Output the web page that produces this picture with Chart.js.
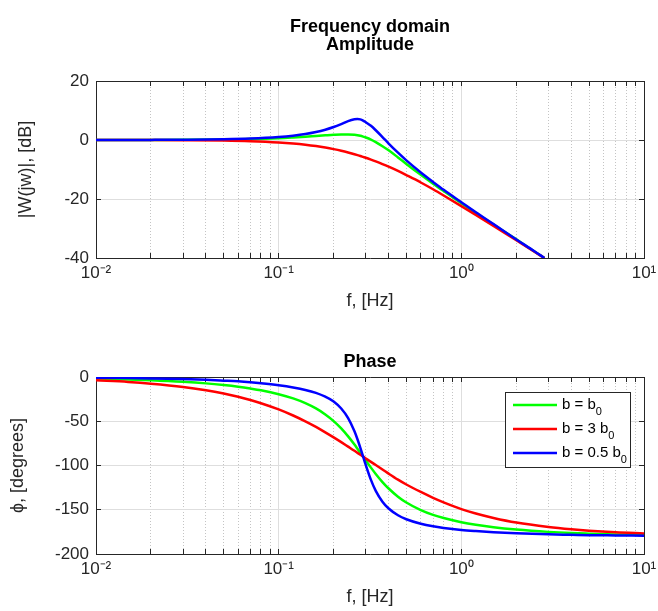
<!DOCTYPE html>
<html lang="en">
<head>
  <title>Frequency domain</title>
  <script src="https://cdn.jsdelivr.net/npm/chart.js"></script>
  <style>
    body { margin: 0; background: #fff; }
    .wrap { position: relative; width: 658px; height: 611px; }
    canvas { position: absolute; left: 0; }
    #ampChart { top: 0; }
    #phaseChart { top: 318px; }
  </style>
</head>
<body>
<div class="wrap">
  <canvas id="ampChart" width="658" height="318"></canvas>
  <canvas id="phaseChart" width="658" height="293"></canvas>
</div>
<script>
  // values
  const seriesLabels = ['b = b₀', 'b = 3 b₀', 'b = 0.5 b₀'];
  const seriesColors = ['#00ff00', '#ff0000', '#0000ff'];

  const decadeTicks = [0.01, 0.1, 1, 10];
  const decadeLabels = ['10⁻²', '10⁻¹', '10⁰', '10¹'];
  const minorSteps = [1, 2, 3, 4, 5, 6, 7, 8, 9];

  const ampFreq = [0.01, 0.02, 0.03, 0.05, 0.07, 0.1, 0.12, 0.14, 0.16, 0.18, 0.2, 0.22, 0.24, 0.26, 0.27,
    0.28, 0.29, 0.3, 0.32, 0.34, 0.37, 0.4, 0.45, 0.5, 0.6, 0.7, 0.8, 1.0, 1.2, 1.5, 2.0, 2.5, 2.85];
  const ampGreen = [0, 0.03, 0.06, 0.16, 0.31, 0.6, 0.86, 1.12, 1.38, 1.6, 1.78, 1.88, 1.88, 1.75, 1.62,
    1.42, 1.15, 0.85, 0.15, -0.7, -2.1, -3.5, -5.9, -8.1, -11.8, -14.8, -17.3, -21.4, -24.7, -28.7, -33.7, -37.7, -40];
  const ampRed = [-0.02, -0.03, -0.08, -0.21, -0.42, -0.84, -1.19, -1.6, -2.06, -2.56, -3.09, -3.64, -4.22, -4.82, -5.12,
    -5.42, -5.73, -6.03, -6.65, -7.26, -8.17, -9.06, -10.5, -11.9, -14.4, -16.7, -18.8, -22.4, -25.4, -29.1, -34.0, -37.8, -40];
  const ampBlue = [0, 0.04, 0.09, 0.24, 0.48, 1.0, 1.45, 2.0, 2.7, 3.5, 4.4, 5.4, 6.4, 7.0, 7.1,
    7.0, 6.6, 6.0, 4.8, 3.3, 1.0, -1.2, -4.3, -6.9, -11.0, -14.2, -16.9, -21.1, -24.5, -28.5, -33.7, -37.6, -40];

  const phaseFreq = [0.01, 0.015, 0.02, 0.03, 0.04, 0.05, 0.06, 0.07, 0.08, 0.1, 0.12, 0.14, 0.16, 0.18, 0.2,
    0.22, 0.24, 0.26, 0.27, 0.28, 0.29, 0.3, 0.32, 0.34, 0.37, 0.4, 0.45, 0.5, 0.6, 0.7,
    0.8, 1.0, 1.2, 1.5, 2.0, 3.0, 4.0, 5.0, 7.0, 10];
  const phaseGreen = [-1.8, -2.7, -3.6, -5.4, -7.2, -9.1, -11.0, -13.0, -15.0, -19.4, -24.2, -29.5, -35.5, -42.3, -49.8,
    -58.1, -67.1, -76.3, -81.0, -85.5, -90, -94.3, -102.4, -109.5, -118.7, -126.0, -135.2, -141.8, -150.4, -155.8,
    -159.4, -164.1, -167.0, -169.8, -172.4, -175.0, -176.3, -177.0, -177.9, -178.5];
  const phaseRed = [-3.8, -5.6, -7.5, -11.2, -15.0, -18.7, -22.3, -26.0, -29.6, -36.6, -43.5, -50.1, -56.4, -62.5, -68.2,
    -73.6, -78.7, -83.4, -85.7, -87.9, -90, -92.1, -95.9, -99.5, -104.5, -109.2, -116.0, -121.5, -129.9, -136.5,
    -141.6, -149.3, -154.3, -159.3, -164.5, -169.5, -172.1, -173.7, -175.5, -176.8];
  const phaseBlue = [-0.8, -1.2, -1.6, -2.4, -3.2, -4.1, -4.9, -5.9, -7.0, -9.3, -11.8, -14.6, -18.0, -22.3, -27.6,
    -35.6, -46.4, -61.3, -70.3, -80.0, -90, -99.6, -116.2, -128.6, -140.9, -148.6, -156.2, -160.7, -165.8, -168.7,
    -170.5, -172.8, -174.1, -175.4, -176.6, -177.8, -178.3, -178.7, -179.0, -179.3];

  const FONT = '"Liberation Sans", Arial, Helvetica, sans-serif';
  const AXIS_COLOR = '#262626';
  const TICK_IN = -5;   // MATLAB-style inward tick marks
  Chart.defaults.font.family = FONT;
  Chart.defaults.color = AXIS_COLOR;

  function isDecade(v) {
    const l = Math.log10(v);
    return Math.abs(l - Math.round(l)) < 1e-6;
  }

  function logTicks(s) {
    const t = [];
    decadeTicks.slice(0, -1).forEach(d => minorSteps.forEach(k => t.push({ value: d * k })));
    t.push({ value: decadeTicks[decadeTicks.length - 1] });
    s.ticks = t;
  }

  function points(freq, vals) {
    return freq.map((f, i) => ({ x: f, y: vals[i] }));
  }

  function makeDatasets(freq, series) {
    return series.map((vals, i) => ({
      label: seriesLabels[i],
      data: points(freq, vals),
      borderColor: seriesColors[i],
      borderWidth: 2.5,
      pointRadius: 0,
      cubicInterpolationMode: 'monotone',
      xAxisID: 'x',
      yAxisID: 'y',
      order: 3 - i   // blue drawn last, like the reference
    }));
  }

  // legend box drawn inside the plot area
  const boxLegend = {
    id: 'boxLegend',
    afterDatasetsDraw(chart, args, opts) {
      if (!opts.display) return;
      const { ctx, chartArea } = chart;
      const x = chartArea.right - opts.right - opts.width;
      const y = chartArea.top + opts.top;
      ctx.save();
      ctx.fillStyle = '#fff';
      ctx.fillRect(x, y, opts.width, opts.height);
      ctx.strokeStyle = AXIS_COLOR;
      ctx.lineWidth = 1;
      ctx.strokeRect(Math.round(x) + 0.5, Math.round(y) + 0.5, opts.width, opts.height);
      ctx.textBaseline = 'middle';
      chart.data.datasets.forEach((ds, i) => {
        const cy = y + opts.firstRow + i * opts.rowGap;
        ctx.strokeStyle = ds.borderColor;
        ctx.lineWidth = ds.borderWidth;
        ctx.beginPath();
        ctx.moveTo(x + 8, cy);
        ctx.lineTo(x + 52, cy);
        ctx.stroke();
        const parts = ds.label.split('₀');
        ctx.fillStyle = '#000';
        ctx.font = '15px ' + FONT;
        ctx.fillText(parts[0], x + 57, cy);
        const w = ctx.measureText(parts[0]).width;
        ctx.font = '11px ' + FONT;
        ctx.fillText('0', x + 57 + w, cy + 7);
      });
      ctx.restore();
    }
  };

  function makeOptions(cfg) {
    const edgeGrid = { drawOnChartArea: false, drawTicks: true, tickLength: TICK_IN, tickColor: AXIS_COLOR };
    return {
      responsive: false,
      animation: false,
      devicePixelRatio: 1,
      layout: { padding: { top: 0, left: 0, right: 14, bottom: 0 } },
      plugins: {
        legend: { display: false },
        tooltip: { enabled: false },
        title: {
          display: true,
          text: cfg.title,
          fullSize: false,
          color: '#000',
          font: { size: 18, weight: 'bold', lineHeight: 1.0 },
          padding: cfg.titlePad
        },
        boxLegend: cfg.legend
      },
      scales: {
        x: {
          type: 'logarithmic',
          position: 'bottom',
          min: 0.01,
          max: 10,
          afterBuildTicks: logTicks,
          afterFit: s => { s.height = cfg.xHeight; s.paddingLeft = 0; s.paddingRight = 0; },
          ticks: {
            autoSkip: false,
            maxRotation: 0,
            padding: 5 - TICK_IN,
            font: { size: 17 },
            color: AXIS_COLOR,
            callback: v => {
              const i = decadeTicks.findIndex(d => Math.abs(d - v) / d < 1e-6);
              return i >= 0 ? decadeLabels[i] : '';
            }
          },
          grid: {
            drawTicks: true,
            tickLength: TICK_IN,
            tickColor: AXIS_COLOR,
            color: c => (c.tick && !isDecade(c.tick.value)) ? '#c4c4c4' : '#dedede',
            lineWidth: 1
          },
          border: {
            color: AXIS_COLOR,
            dash: c => (c.tick && !isDecade(c.tick.value)) ? [1, 2] : []
          },
          title: {
            display: true,
            text: 'f, [Hz]',
            color: AXIS_COLOR,
            font: { size: 18 },
            padding: { top: 0, bottom: cfg.xTitlePad }
          }
        },
        y: {
          type: 'linear',
          position: 'left',
          min: cfg.yMin,
          max: cfg.yMax,
          afterFit: s => { s.width = 96; s.paddingTop = 0; s.paddingBottom = 0; },
          ticks: { stepSize: cfg.yStep, padding: 7 - TICK_IN, font: { size: 17 }, color: AXIS_COLOR },
          grid: { drawTicks: true, tickLength: TICK_IN, tickColor: AXIS_COLOR, color: '#dedede' },
          border: { color: AXIS_COLOR },
          title: {
            display: true,
            text: cfg.yTitle,
            color: AXIS_COLOR,
            font: { size: 18 },
            padding: { top: cfg.yTitlePad, bottom: 0 }
          }
        },
        xTop: {
          type: 'logarithmic',
          position: 'top',
          min: 0.01,
          max: 10,
          afterBuildTicks: logTicks,
          ticks: { display: false },
          grid: edgeGrid,
          border: { color: AXIS_COLOR },
          afterFit: s => { s.height = 0; s.paddingLeft = 0; s.paddingRight = 0; }
        },
        yRight: {
          type: 'linear',
          position: 'right',
          min: cfg.yMin,
          max: cfg.yMax,
          ticks: { display: false, stepSize: cfg.yStep },
          grid: edgeGrid,
          border: { color: AXIS_COLOR },
          afterFit: s => { s.width = 0; s.paddingTop = 0; s.paddingBottom = 0; }
        }
      }
    };
  }

  new Chart(document.getElementById('ampChart'), {
    type: 'line',
    data: { datasets: makeDatasets(ampFreq, [ampGreen, ampRed, ampBlue]) },
    options: makeOptions({
      title: ['Frequency domain', 'Amplitude'],
      titlePad: { top: 18, bottom: 27 },
      xHeight: 60,
      xTitlePad: 6,
      yMin: -40, yMax: 20, yStep: 20,
      yTitle: '|W(jw)|, [dB]',
      yTitlePad: 15,
      legend: { display: false }
    }),
    plugins: [boxLegend]
  });

  new Chart(document.getElementById('phaseChart'), {
    type: 'line',
    data: { datasets: makeDatasets(phaseFreq, [phaseGreen, phaseRed, phaseBlue]) },
    options: makeOptions({
      title: 'Phase',
      titlePad: { top: 35, bottom: 6 },
      xHeight: 57,
      xTitlePad: 3,
      yMin: -200, yMax: 0, yStep: 50,
      yTitle: 'ϕ, [degrees]',
      yTitlePad: 7,
      legend: { display: true, right: 14, top: 15, width: 125, height: 75, firstRow: 13, rowGap: 24 }
    }),
    plugins: [boxLegend]
  });
</script>
</body>
</html>
